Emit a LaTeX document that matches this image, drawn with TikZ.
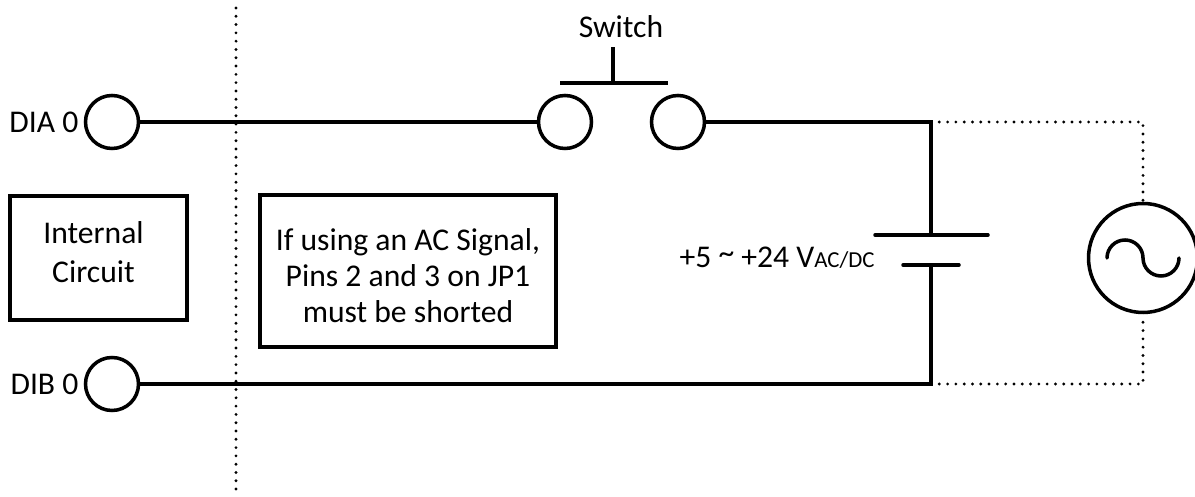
\documentclass[tikz,border=0pt]{standalone}
\usepackage{fontspec}
\setmainfont{Carlito}
\usetikzlibrary{positioning}
\begin{document}
\begin{tikzpicture}[
    wire/.style={line width=2pt},
    link/.style={line width=1.8pt, line cap=round, dash pattern=on 0pt off 4.72pt},
    terminal/.style={draw, line width=2pt, circle, fill=white, minimum size=1.06cm, inner sep=0pt},
    noteBox/.style={draw, line width=2pt},
    label/.style={inner sep=0pt, align=center, font=\fontsize{18}{20.5}\selectfont}
  ]
  \useasboundingbox (0,0) rectangle (23.9,9.94);

  % Divider
  \coordinate (divTop) at (4.72,9.78);
  \coordinate (divBot) at (4.72,0);
  \draw[link] (divTop) -- (divBot);

  % Input terminals
  \node[terminal] (dia) at (2.24,7.50) {};
  \node[terminal] (dib) at (2.24,2.26) {};
  \node[label, left=0.1cm of dia] (diaText) {DIA 0};
  \node[label, left=0.1cm of dib] (dibText) {DIB 0};

  % Switch
  \node[terminal] (swL) at (11.3,7.50) {};
  \node[terminal] (swR) at (13.56,7.50) {};
  \coordinate (barL) at (11.2,8.28);
  \coordinate (barR) at (13.36,8.28);
  \coordinate (barM) at (12.26,8.28);
  \coordinate (barT) at (12.26,9.00);
  \draw[wire] (barL) -- (barR);
  \draw[wire] (barM) -- (barT);
  \node[label] (swText) at (12.42,9.40) {Switch};

  % Boxes
  \node[noteBox, minimum width=3.54cm, minimum height=2.48cm] (circuit) at (1.97,4.78) {};
  \node[label, font=\fontsize{18}{22.5}\selectfont] (circuitText) at ([xshift=-0.1cm, yshift=0.12cm]circuit.center) {Internal\\Circuit};
  \node[noteBox, minimum width=5.92cm, minimum height=3.04cm] (note) at (8.16,4.52) {};
  \node[label] (noteText) at ([yshift=-0.1cm]note.center) {If using an AC Signal,\\Pins 2 and 3 on JP1\\must be shorted};

  % Battery
  \coordinate (topCorner) at (18.62,7.50);
  \coordinate (botCorner) at (18.62,2.26);
  \coordinate (plateA) at (18.62,5.24);
  \coordinate (plateB) at (18.62,4.64);
  \draw[wire, line cap=round] (17.5,5.24) -- (19.76,5.24);
  \draw[wire, line cap=round] (18.06,4.64) -- (19.18,4.64);
  \node[label, anchor=base east] (battText) at (17.5,4.58) {+5 \raisebox{2.5pt}{\char"7E}{} +24 V{\fontsize{13}{14}\selectfont AC/DC}};

  % Wires
  \draw[wire] (dia) -- (swL);
  \draw[wire] (swR) -- (topCorner) -- (plateA);
  \draw[wire] (dib) -- (botCorner) -- (plateB);

  % AC source
  \node[terminal, minimum size=2.18cm] (ac) at (22.86,4.78) {};
  \draw[wire, line cap=round] ([xshift=-0.72cm]ac.center) arc (180:0:0.36) arc (180:360:0.36);
  \draw[link] (topCorner) -| (ac.north);
  \draw[link] (botCorner) -| (ac.south);
\end{tikzpicture}
\end{document}
